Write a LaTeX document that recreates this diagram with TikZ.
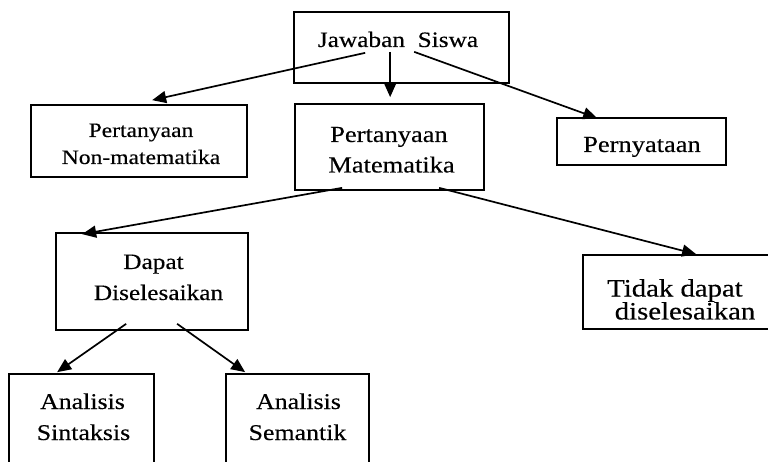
\documentclass[tikz,border=0pt]{standalone}
\usepackage{fontspec}
\setmainfont{Liberation Serif}
\usetikzlibrary{arrows.meta,calc}
\newfontfamily\wideserif{Liberation Serif}[FakeStretch=1.15,FakeBold=0.3]
\begin{document}
\begin{tikzpicture}[x=1pt,y=-1pt,
  box/.style={draw, line width=1.7pt, inner sep=0pt},
  lbl/.style={anchor=base, inner sep=0pt},
  fjaw/.style={font=\wideserif\fontsize{22}{26}\selectfont},
  fmat/.style={font=\wideserif\fontsize{23}{27}\selectfont},
  fnon/.style={font=\wideserif\fontsize{20.5}{24}\selectfont},
  fper/.style={font=\wideserif\fontsize{23}{27}\selectfont},
  fdap/.style={font=\wideserif\fontsize{22}{26}\selectfont},
  ftid/.style={font=\wideserif\fontsize{25}{29}\selectfont},
  fana/.style={font=\wideserif\fontsize{22.5}{26}\selectfont},
  conn/.style={line width=1.7pt, -{Triangle[length=14pt,width=12pt]}}]
\useasboundingbox (0,0) rectangle (768,462);
\clip (0,0) rectangle (768,462);

% boxes
\node[box, minimum width=215pt, minimum height=71pt] (jaw) at (401.5,47.5) {};
\node[box, minimum width=216pt, minimum height=72pt] (non) at (139,141) {};
\node[box, minimum width=189pt, minimum height=86pt] (mat) at (389.5,147) {};
\node[box, minimum width=169pt, minimum height=47pt] (per) at (641.5,141.5) {};
\node[box, minimum width=192pt, minimum height=97pt] (dap) at (152,281.5) {};
\node[box, minimum width=217pt, minimum height=74pt] (tid) at (691.5,292) {};
\node[box, minimum width=145pt, minimum height=126pt] (sin) at (81.5,437) {};
\node[box, minimum width=143pt, minimum height=126pt] (sem) at (297.5,437) {};

% texts
\node[lbl, fjaw] (tjaw) at (398,47) {Jawaban\ \ Siswa};
\node[lbl, fnon] (tnon1) at (141,137) {Pertanyaan};
\node[lbl, fnon] (tnon2) at (141,164) {Non-matematika};
\node[lbl, fmat] (tmat1) at (389,142) {Pertanyaan};
\node[lbl, fmat] (tmat2) at (391.5,172.5) {Matematika};
\node[lbl, fper] (tper) at (642,152) {Pernyataan};
\node[lbl, fdap] (tdap1) at (153.5,269) {Dapat};
\node[lbl, fdap] (tdap2) at (158.5,300) {Diselesaikan};
\node[lbl, ftid] (ttid1) at (675,296.5) {Tidak dapat};
\node[lbl, ftid] (ttid2) at (685,319.5) {diselesaikan};
\node[lbl, fana] (tsin1) at (82.5,409) {Analisis};
\node[lbl, fana] (tsin2) at (83.5,440) {Sintaksis};
\node[lbl, fana] (tsem1) at (298.5,409) {Analisis};
\node[lbl, fana] (tsem2) at (297.5,440) {Semantik};

% connector end points
\coordinate (j1) at ($(jaw.south west)+(72,-31)$);
\coordinate (j2) at ($(jaw.south west)+(97,-32)$);
\coordinate (j3) at ($(jaw.south west)+(121,-32)$);
\coordinate (n1) at ($(non.north west)+(122,-4)$);
\coordinate (m0) at ($(mat.north west)+(96,-6)$);
\coordinate (p1) at ($(per.north west)+(41,1)$);
\coordinate (m1) at ($(mat.south west)+(48,-3)$);
\coordinate (m2) at ($(mat.south west)+(145,-3)$);
\coordinate (d0) at ($(dap.north west)+(27,2)$);
\coordinate (t0) at ($(tid.north west)+(114,0)$);
\coordinate (d1) at ($(dap.south west)+(71,-7)$);
\coordinate (d2) at ($(dap.south west)+(122,-7)$);
\coordinate (s1) at ($(sin.north west)+(49,-1)$);
\coordinate (s2) at ($(sem.north west)+(20,-1)$);

% connectors
\draw[conn] (j1) -- (n1);
\draw[conn] (j2) -- (m0);
\draw[conn] (j3) -- (p1);
\draw[conn] (m1) -- (d0);
\draw[conn] (m2) -- (t0);
\draw[conn] (d1) -- (s1);
\draw[conn] (d2) -- (s2);
\end{tikzpicture}
\end{document}
